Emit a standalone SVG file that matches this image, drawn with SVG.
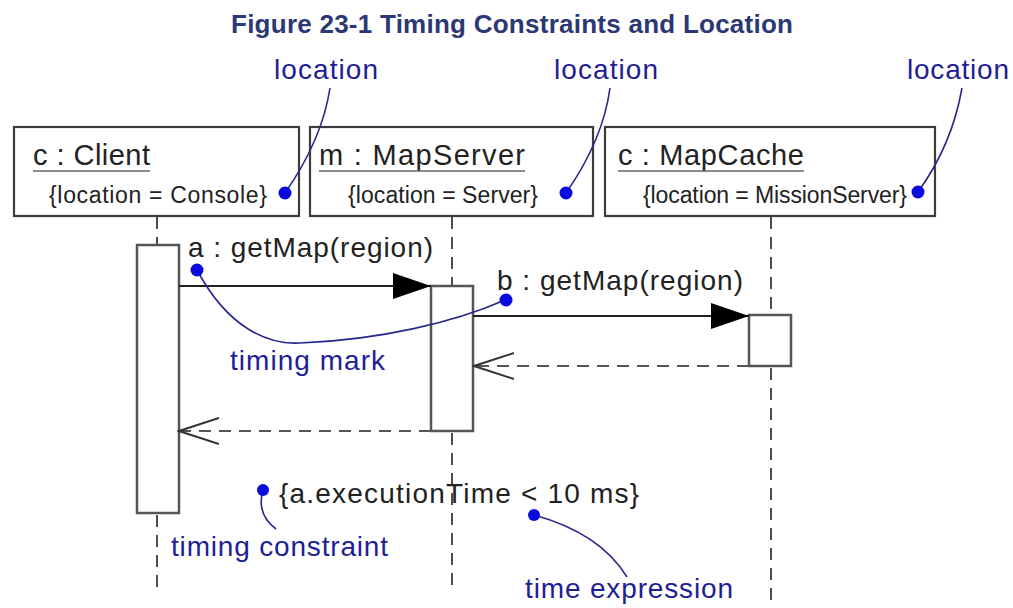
<svg xmlns="http://www.w3.org/2000/svg" width="1013" height="608" viewBox="0 0 1013 608">
<style>
text{font-family:"Liberation Sans",Arial,sans-serif}
.title{font-size:26px;font-weight:bold;fill:#2b3875}
.name{font-size:29px;fill:#222}
.loc{font-size:23px;fill:#222}
.note{font-size:28px;fill:#1e1e96}
.msg{font-size:28px;fill:#222}
.head{fill:#fff;stroke:#3c3c3c;stroke-width:2.2}
.act{fill:#fff;stroke:#555;stroke-width:2.5}
.ul{stroke:#666;stroke-width:1.5}
.life{stroke:#222;stroke-width:1.6;stroke-dasharray:12 8;fill:none}
.call{stroke:#222;stroke-width:1.8;fill:none}
.ret{stroke:#555;stroke-width:2;stroke-dasharray:12 8;fill:none}
.lead{stroke:#28288c;stroke-width:1.6;fill:none}
.dot{fill:#0a0ae0}
</style>
<defs>
<marker id="filled" markerUnits="userSpaceOnUse" markerWidth="40" markerHeight="28" refX="38" refY="13" orient="auto">
<path d="M0,0 L38,13 L0,26 z" fill="#000"/>
</marker>
<marker id="open" markerUnits="userSpaceOnUse" markerWidth="42" markerHeight="30" refX="40" refY="14" orient="auto">
<path d="M0,1 L40,14 L0,27" fill="none" stroke="#333" stroke-width="2"/>
</marker>
</defs>
<rect width="1013" height="608" fill="#fff"/>
<g id="title">
<text class="title" x="512" y="33" text-anchor="middle" textLength="562">Figure 23-1 Timing Constraints and Location</text>
</g>
<g id="lifelines">
<line class="life" x1="157" y1="217" x2="157" y2="245"/>
<line class="life" x1="157" y1="515" x2="157" y2="592"/>
<line class="life" x1="452" y1="217" x2="452" y2="286"/>
<line class="life" x1="452" y1="433" x2="452" y2="592"/>
<line class="life" x1="771" y1="217" x2="771" y2="315"/>
<line class="life" x1="771" y1="368" x2="771" y2="600"/>
</g>
<g id="client">
<rect class="head" x="14" y="127" width="285" height="89"/>
<text class="name" x="33" y="165" textLength="117">c : Client</text>
<line class="ul" x1="33" y1="171" x2="150" y2="171"/>
<text class="loc" x="49" y="203" textLength="218">{location = Console}</text>
</g>
<g id="mapserver">
<rect class="head" x="310" y="127" width="283" height="89"/>
<text class="name" x="319" y="165" textLength="206">m : MapServer</text>
<line class="ul" x1="319" y1="171" x2="525" y2="171"/>
<text class="loc" x="348" y="203" textLength="190">{location = Server}</text>
</g>
<g id="mapcache">
<rect class="head" x="605" y="127" width="330" height="89"/>
<text class="name" x="618" y="165" textLength="186">c : MapCache</text>
<line class="ul" x1="618" y1="171" x2="804" y2="171"/>
<text class="loc" x="643" y="203" textLength="264">{location = MissionServer}</text>
</g>
<g id="client-activation">
<rect class="act" x="137" y="245" width="42" height="268"/>
</g>
<g id="mapserver-activation">
<rect class="act" x="431" y="286" width="42" height="145"/>
</g>
<g id="mapcache-activation">
<rect class="act" x="749" y="315" width="42" height="51"/>
</g>
<g id="connectors">
<line class="call" x1="179" y1="286" x2="431" y2="286" marker-end="url(#filled)"/>
<line class="call" x1="473" y1="316" x2="749" y2="316" marker-end="url(#filled)"/>
<line class="ret" x1="749" y1="366" x2="474" y2="366" marker-end="url(#open)"/>
<line class="ret" x1="431" y1="431" x2="179" y2="431" marker-end="url(#open)"/>
<path class="lead" d="M330 88 Q322 140 285 193"/>
<path class="lead" d="M610 88 Q603 140 566 193"/>
<path class="lead" d="M962 88 Q952 145 918 192"/>
<path class="lead" d="M197 270 C228 328 268 345 300 343 C380 340 455 322 505 300"/>
<path class="lead" d="M263 490 Q256 514 276 529"/>
<path class="lead" d="M534 515 Q600 533 627 577"/>
</g>
<g id="message-labels">
<text class="msg" x="188" y="257" textLength="245">a : getMap(region)</text>
<text class="msg" x="497" y="290" textLength="246">b : getMap(region)</text>
<text class="msg" x="279" y="503" textLength="360">{a.executionTime &lt; 10 ms}</text>
</g>
<g id="annotations">
<text class="note" x="274" y="79" textLength="104">location</text>
<text class="note" x="554" y="79" textLength="104">location</text>
<text class="note" x="907" y="79" textLength="102">location</text>
<text class="note" x="230" y="370" textLength="155">timing mark</text>
<text class="note" x="171" y="556" textLength="217">timing constraint</text>
<text class="note" x="525" y="598" textLength="208">time expression</text>
<circle class="dot" cx="285" cy="193" r="6.5"/>
<circle class="dot" cx="566" cy="193" r="6.5"/>
<circle class="dot" cx="918" cy="192" r="6.5"/>
<circle class="dot" cx="197" cy="270" r="6.5"/>
<circle class="dot" cx="506" cy="300" r="6.5"/>
<circle class="dot" cx="263" cy="490" r="6"/>
<circle class="dot" cx="534" cy="515" r="6"/>
</g>
</svg>
